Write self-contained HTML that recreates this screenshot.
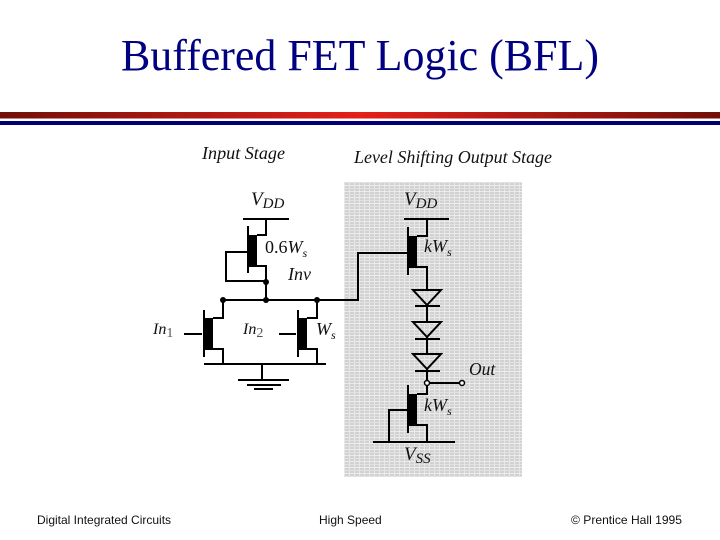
<!DOCTYPE html>
<html><head><meta charset="utf-8"><style>
html,body{margin:0;padding:0;background:#fff}
svg{display:block}
.i{font-family:"Liberation Serif",serif;font-style:italic;fill:#111}
.f{font-family:"Liberation Sans",sans-serif;font-size:12px;fill:#111}
</style></head><body>
<svg width="720" height="540" viewBox="0 0 720 540" xmlns="http://www.w3.org/2000/svg">
<defs>
<linearGradient id="r" x1="0" x2="1" y1="0" y2="0"><stop offset="0" stop-color="#701008"/><stop offset=".5" stop-color="#e4201a"/><stop offset="1" stop-color="#701008"/></linearGradient>
<pattern id="d" width="5" height="6" patternUnits="userSpaceOnUse"><rect width="5" height="6" fill="#d2d2d2"/><rect x="4" width="1" height="6" fill="#e8e8e8"/><rect y="2" width="5" height="1" fill="#e2e2e2"/><rect y="5" width="5" height="1" fill="#ececec"/></pattern>
</defs>
<rect width="720" height="540" fill="#fff"/>
<text x="360" y="70" text-anchor="middle" font-family="Liberation Serif,serif" font-size="44" fill="#000080" textLength="478" lengthAdjust="spacingAndGlyphs">Buffered FET Logic (BFL)</text>
<rect x="0" y="112" width="720" height="6.5" fill="url(#r)"/>
<rect x="0" y="121" width="720" height="4" fill="#000070"/>
<rect x="344" y="182" width="178" height="295" fill="url(#d)"/>
<g fill="none" stroke="#000" stroke-width="2">
<path d="M243 219H289M266 219V235H257M257 266H266V299M248 226V273M248 252H226V281H266"/>
<path d="M184 334H202M204 310V357M213 318H223V300M213 349H223V364M279 334H296M298 310V357M307 318H317V300M307 349H317V364"/>
<path d="M204 364H326M262 364V380M238 380H289M247 385H281M254 389H273"/>
<path d="M223 300H358V253H407M404 219H449M427 219V236H417M417 267H427V290M408 227V275"/>
<path d="M413 290H441L427 305ZM415 306H440M427 305V322"/>
<path d="M413 322H441L427 337ZM415 339H440M427 337V354"/>
<path d="M413 354H441L427 369ZM415 371H440M427 369V380"/>
<path d="M427 386V394H417M417 425H427V442M408 385V433M408 410H389V442M373 442H455M430 383H459"/>
</g>
<g fill="#000">
<rect x="249" y="235" width="8" height="32"/>
<rect x="205" y="318" width="8" height="32"/>
<rect x="299" y="318" width="8" height="32"/>
<rect x="409" y="236" width="8" height="32"/>
<rect x="409" y="394" width="8" height="32"/>
<circle cx="266" cy="282" r="3"/><circle cx="223" cy="300" r="3"/><circle cx="266" cy="300" r="3"/><circle cx="317" cy="300" r="3"/>
</g>
<circle cx="427" cy="383" r="2.5" fill="#fff" stroke="#000" stroke-width="1.5"/>
<circle cx="462" cy="383" r="2.5" fill="#fff" stroke="#000" stroke-width="1.5"/>
<text class="i" x="202" y="159" font-size="18" textLength="83" lengthAdjust="spacingAndGlyphs">Input Stage</text>
<text class="i" x="354" y="163" font-size="18" textLength="198" lengthAdjust="spacingAndGlyphs">Level Shifting Output Stage</text>
<text class="i" x="251" y="205" font-size="19">V<tspan font-size="15" dy="3">DD</tspan></text>
<text class="i" x="404" y="205" font-size="19">V<tspan font-size="15" dy="3">DD</tspan></text>
<text class="i" x="265" y="253" font-size="18"><tspan font-style="normal">0.6</tspan>W<tspan font-size="12" dy="4">s</tspan></text>
<text class="i" x="288" y="280" font-size="18">Inv</text>
<text class="i" x="153" y="334" font-size="16">In<tspan font-size="14" dy="3" font-style="normal" fill="#555">1</tspan></text>
<text class="i" x="243" y="334" font-size="16">In<tspan font-size="14" dy="3" font-style="normal" fill="#555">2</tspan></text>
<text class="i" x="316" y="335" font-size="18">W<tspan font-size="12" dy="4">s</tspan></text>
<text class="i" x="424" y="252" font-size="18">kW<tspan font-size="12" dy="4">s</tspan></text>
<text class="i" x="424" y="411" font-size="18">kW<tspan font-size="12" dy="4">s</tspan></text>
<text class="i" x="469" y="375" font-size="17.5">Out</text>
<text class="i" x="404" y="460" font-size="19">V<tspan font-size="15" dy="3">SS</tspan></text>
<text class="f" x="37" y="524">Digital Integrated Circuits</text>
<text class="f" x="319" y="524">High Speed</text>
<text class="f" x="571" y="524" textLength="111" lengthAdjust="spacingAndGlyphs">© Prentice Hall 1995</text>
</svg>
</body></html>
